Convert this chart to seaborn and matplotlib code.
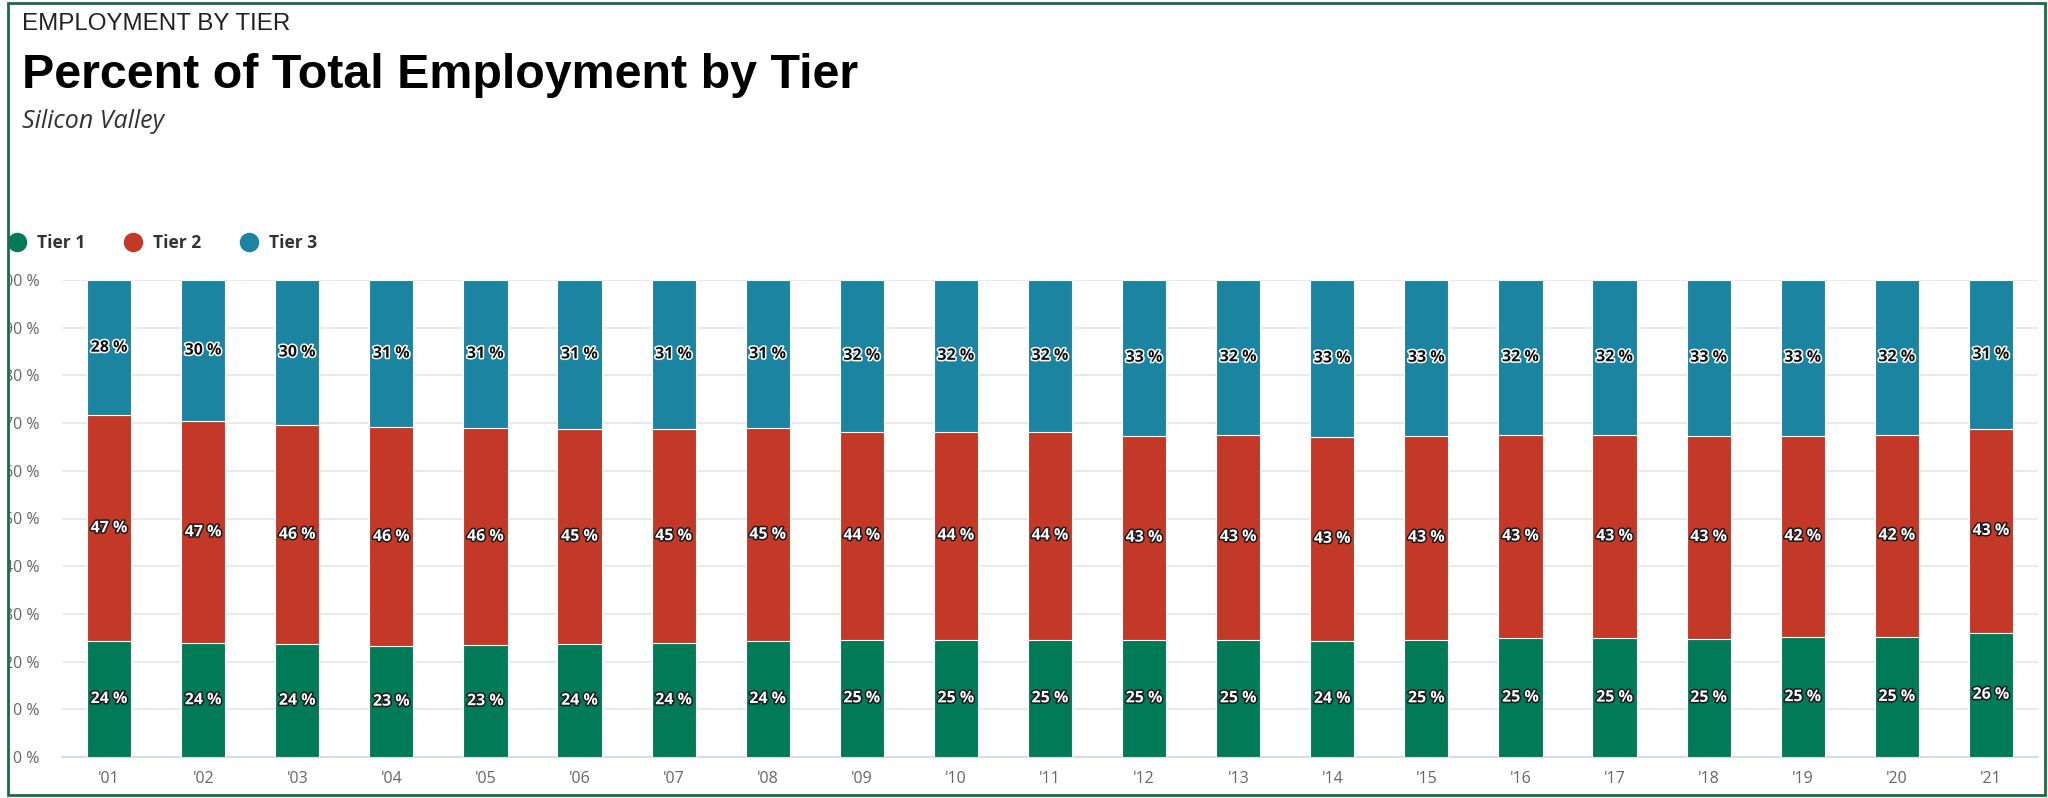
import numpy as np
import pandas as pd
import matplotlib.pyplot as plt
import seaborn as sns
from matplotlib import patheffects as pe
from matplotlib.lines import Line2D
from matplotlib.patches import Rectangle

sns.set_style('white')
plt.rcParams['font.family'] = ['Open Sans', 'DejaVu Sans']

# data (share of total employment, %)
years = ["'01", "'02", "'03", "'04", "'05", "'06", "'07", "'08", "'09", "'10", "'11",
         "'12", "'13", "'14", "'15", "'16", "'17", "'18", "'19", "'20", "'21"]
tier1 = [24.3, 23.8, 23.6, 23.2, 23.4, 23.6, 23.8, 24.3, 24.6, 24.6, 24.6,
         24.6, 24.6, 24.4, 24.6, 24.9, 24.9, 24.8, 25.1, 25.2, 26.1]
tier2 = [47.3, 46.6, 46.0, 45.9, 45.6, 45.2, 45.0, 44.6, 43.6, 43.6, 43.6,
         42.8, 43.0, 42.7, 42.8, 42.7, 42.7, 42.6, 42.3, 42.4, 42.6]
tier3 = [28.4, 29.6, 30.4, 30.9, 31.0, 31.2, 31.2, 31.1, 31.8, 31.8, 31.8,
         32.6, 32.4, 32.9, 32.6, 32.4, 32.4, 32.6, 32.6, 32.4, 31.3]
tiers = ['Tier 1', 'Tier 2', 'Tier 3']
colors = ['#007a57', '#c43828', '#1b84a0']

df = pd.DataFrame({'year': years, 't1': tier1, 't2': tier2, 't3': tier3})
df['c1'] = df['t1']
df['c2'] = df['t1'] + df['t2']
df['c3'] = df['c2'] + df['t3']

fig = plt.figure(figsize=(20.48, 7.98), dpi=100)
ax = fig.add_axes([62 / 2048, 1 - 757 / 798, (2038 - 62) / 2048, (757 - 280) / 798])

# stacked bars drawn as layered cumulative totals
for col, c in zip(['c3', 'c2', 'c1'], colors[::-1]):
    sns.barplot(data=df, x='year', y=col, color=c, width=0.47, ax=ax,
                edgecolor='white', linewidth=0.8, saturation=1, zorder=3)

# data labels
white_lbl = [pe.withStroke(linewidth=2.2, foreground='#1a1a1a')]
dark_lbl = [pe.withStroke(linewidth=2.2, foreground='white')]
for i in range(len(years)):
    segs = [(0, df.c1[i], df.t1[i]), (df.c1[i], df.c2[i], df.t2[i]), (df.c2[i], df.c3[i], df.t3[i])]
    for k, (lo, hi, v) in enumerate(segs):
        if k < 2:
            tc, eff = 'white', white_lbl
        else:
            tc, eff = '#111111', dark_lbl
        ax.text(i, (lo + hi) / 2, f'{v:.0f} %', ha='center', va='center', fontsize=11.5,
                fontweight='bold', color=tc, path_effects=eff, zorder=5)

ax.set_xlim(-0.5, len(years) - 0.5)
ax.set_ylim(0, 100)
ax.set_yticks(np.arange(0, 101, 10))
ax.set_yticklabels([f'{t} %' for t in range(0, 101, 10)])
ax.yaxis.grid(True, color='#e6e6e6', linewidth=1.2, zorder=0)
ax.set_axisbelow(True)
ax.set_xlabel('')
ax.set_ylabel('')
for s in ['top', 'right', 'left']:
    ax.spines[s].set_visible(False)
ax.spines['bottom'].set_color('#ccd6eb')
ax.spines['bottom'].set_linewidth(1.2)
ax.tick_params(axis='y', length=0, pad=16, labelsize=11.5, labelcolor='#666666')
ax.tick_params(axis='x', length=0, pad=10, labelsize=11.5, labelcolor='#666666')

# legend
handles = [Line2D([0], [0], marker='o', linestyle='', markersize=13, markerfacecolor=c,
                  markeredgecolor=c) for c in colors]
fig.legend(handles, tiers, loc='center left', bbox_to_anchor=(-9 / 2048, 1 - 243 / 798),
           ncol=3, frameon=False, handlelength=1.2, handletextpad=0.55, columnspacing=2.16,
           prop={'size': 12.5, 'weight': 'bold'}, labelcolor='#333333')

# titles
fig.text(22 / 2048, 1 - 24 / 798, 'EMPLOYMENT BY TIER', fontsize=17.4,
         family='Liberation Sans', color='#222222', va='center')
fig.text(22 / 2048, 1 - 76 / 798, 'Percent of Total Employment by Tier', fontsize=34.8,
         fontweight='bold', family='Liberation Sans', color='black', va='center')
fig.text(22 / 2048, 1 - 122 / 798, 'Silicon Valley', fontsize=18, style='italic',
         color='#333333', va='center')

# cropped left edge + green frame
fig.add_artist(Rectangle((0, 0), 8 / 2048, 1, transform=fig.transFigure,
                         facecolor='white', edgecolor='none', zorder=10))
fig.add_artist(Rectangle((8 / 2048, 3 / 798), (2045 - 8) / 2048, (795 - 3) / 798,
                         transform=fig.transFigure, fill=False, edgecolor='#1d6b45',
                         linewidth=2, zorder=11))

fig.savefig('out.png', dpi=100)
